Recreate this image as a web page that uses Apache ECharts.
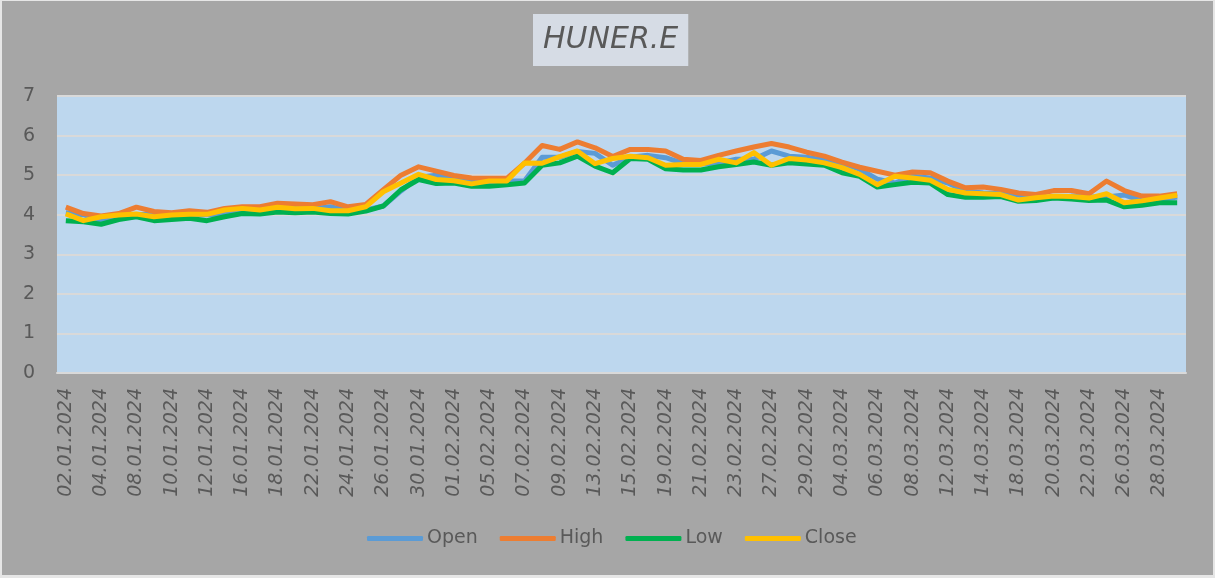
<!DOCTYPE html>
<html>
<head>
<meta charset="utf-8">
<script src="https://cdn.jsdelivr.net/npm/echarts@6/dist/echarts.min.js"></script>
<style>
  html, body { margin: 0; padding: 0; background: #e6e6e6; }
  #chart { position: absolute; left: 2px; top: 1px; width: 1211px; height: 574px; }
</style>
</head>
<body>
<div id="chart"></div>
<script>
// trading days, 02.01.2024 - 29.03.2024
var dates = [
  "02.01.2024", "03.01.2024", "04.01.2024", "05.01.2024", "08.01.2024", "09.01.2024", "10.01.2024", "11.01.2024",
  "12.01.2024", "15.01.2024", "16.01.2024", "17.01.2024", "18.01.2024", "19.01.2024", "22.01.2024", "23.01.2024",
  "24.01.2024", "25.01.2024", "26.01.2024", "29.01.2024", "30.01.2024", "31.01.2024", "01.02.2024", "02.02.2024",
  "05.02.2024", "06.02.2024", "07.02.2024", "08.02.2024", "09.02.2024", "12.02.2024", "13.02.2024", "14.02.2024",
  "15.02.2024", "16.02.2024", "19.02.2024", "20.02.2024", "21.02.2024", "22.02.2024", "23.02.2024", "26.02.2024",
  "27.02.2024", "28.02.2024", "29.02.2024", "01.03.2024", "04.03.2024", "05.03.2024", "06.03.2024", "07.03.2024",
  "08.03.2024", "11.03.2024", "12.03.2024", "13.03.2024", "14.03.2024", "15.03.2024", "18.03.2024", "19.03.2024",
  "20.03.2024", "21.03.2024", "22.03.2024", "25.03.2024", "26.03.2024", "27.03.2024", "28.03.2024", "29.03.2024"
];

var openVals = [
  4.05, 4.00, 3.85, 3.95, 4.00, 4.02, 3.95, 3.99, 4.00, 4.01, 4.12, 4.16, 4.12, 4.19, 4.15, 4.20,
  4.10, 4.12, 4.22, 4.60, 4.95, 5.00, 4.88, 4.86, 4.78, 4.85, 4.85, 5.45, 5.45, 5.60, 5.55, 5.25,
  5.45, 5.50, 5.44, 5.30, 5.28, 5.30, 5.40, 5.40, 5.61, 5.48, 5.45, 5.38, 5.30, 5.15, 4.90, 4.80,
  4.97, 4.93, 4.80, 4.60, 4.55, 4.53, 4.50, 4.40, 4.43, 4.47, 4.45, 4.45, 4.50, 4.35, 4.38, 4.45
];
var highVals = [
  4.19, 4.03, 3.97, 4.03, 4.19, 4.08, 4.05, 4.10, 4.06, 4.16, 4.20, 4.20, 4.29, 4.27, 4.25, 4.33,
  4.20, 4.26, 4.63, 5.00, 5.21, 5.10, 4.99, 4.93, 4.92, 4.92, 5.30, 5.75, 5.65, 5.84, 5.69, 5.47,
  5.65, 5.65, 5.61, 5.40, 5.37, 5.50, 5.61, 5.71, 5.80, 5.71, 5.58, 5.48, 5.33, 5.20, 5.10, 5.00,
  5.08, 5.06, 4.85, 4.68, 4.70, 4.64, 4.55, 4.51, 4.61, 4.61, 4.53, 4.85, 4.61, 4.47, 4.47, 4.53
];
var lowVals = [
  3.85, 3.82, 3.76, 3.88, 3.95, 3.85, 3.88, 3.91, 3.85, 3.95, 4.03, 4.02, 4.07, 4.05, 4.07, 4.03,
  4.02, 4.09, 4.22, 4.63, 4.89, 4.79, 4.80, 4.72, 4.72, 4.76, 4.80, 5.25, 5.31, 5.48, 5.23, 5.06,
  5.42, 5.40, 5.16, 5.13, 5.13, 5.21, 5.27, 5.33, 5.25, 5.31, 5.28, 5.25, 5.06, 4.97, 4.70, 4.76,
  4.82, 4.80, 4.51, 4.44, 4.44, 4.46, 4.34, 4.36, 4.42, 4.40, 4.36, 4.37, 4.20, 4.24, 4.30, 4.30
];
var closeVals = [
  4.02, 3.85, 3.95, 3.99, 4.02, 3.95, 3.99, 4.01, 4.01, 4.12, 4.16, 4.12, 4.19, 4.15, 4.16, 4.10,
  4.10, 4.20, 4.58, 4.80, 5.02, 4.89, 4.86, 4.78, 4.85, 4.85, 5.31, 5.30, 5.47, 5.61, 5.29, 5.42,
  5.48, 5.44, 5.25, 5.27, 5.27, 5.40, 5.31, 5.57, 5.25, 5.42, 5.38, 5.31, 5.19, 5.02, 4.76, 4.97,
  4.93, 4.87, 4.64, 4.55, 4.53, 4.51, 4.37, 4.43, 4.47, 4.46, 4.42, 4.53, 4.30, 4.35, 4.42, 4.49
];

var seriesNames = ["Open", "High", "Low", "Close"];
var seriesColors = ["#5b9bd5", "#ed7d31", "#00b050", "#ffc000"];
var seriesData = [openVals, highVals, lowVals, closeVals];

var font = "DejaVu Sans";
var textColor = "#595959";

var chart = echarts.init(document.getElementById("chart"));

var option = {
  backgroundColor: "#a6a6a6",
  animation: false,
  title: {
    text: "HUNER.E",
    left: 531,
    top: 13,
    padding: [11, 10, 11, 10],
    backgroundColor: "#d6dce5",
    textStyle: {
      fontFamily: font,
      fontSize: 30,
      fontStyle: "italic",
      fontWeight: "normal",
      color: textColor
    }
  },
  legend: {
    data: seriesNames,
    left: 360,
    top: 523,
    icon: "roundRect",
    itemWidth: 56,
    itemHeight: 5,
    itemGap: 22,
    textStyle: {
      fontFamily: font,
      fontSize: 19,
      color: textColor,
      padding: [0, 0, 0, -1]
    }
  },
  grid: {
    left: 55,
    right: 27,
    top: 95,
    bottom: 202,
    show: true,
    backgroundColor: "#bdd7ee",
    borderWidth: 0
  },
  xAxis: {
    type: "category",
    data: dates,
    boundaryGap: true,
    axisLine: { show: true, lineStyle: { color: "#d9d9d9", width: 2 } },
    axisTick: { show: false },
    axisLabel: {
      interval: 1,
      rotate: 90,
      margin: 15,
      fontFamily: font,
      fontSize: 19,
      fontStyle: "italic",
      color: textColor
    }
  },
  yAxis: {
    type: "value",
    min: 0,
    max: 7,
    interval: 1,
    axisLine: { show: false },
    axisTick: { show: false },
    axisLabel: {
      margin: 22,
      fontFamily: font,
      fontSize: 19,
      color: textColor
    },
    splitLine: { lineStyle: { color: "#d9d9d9", width: 2 } }
  },
  series: seriesNames.map(function (name, i) {
    return {
      name: name,
      type: "line",
      data: seriesData[i],
      symbol: "none",
      color: seriesColors[i],
      lineStyle: { width: 5, color: seriesColors[i], join: "round" }
    };
  })
};

chart.setOption(option);
</script>
</body>
</html>
